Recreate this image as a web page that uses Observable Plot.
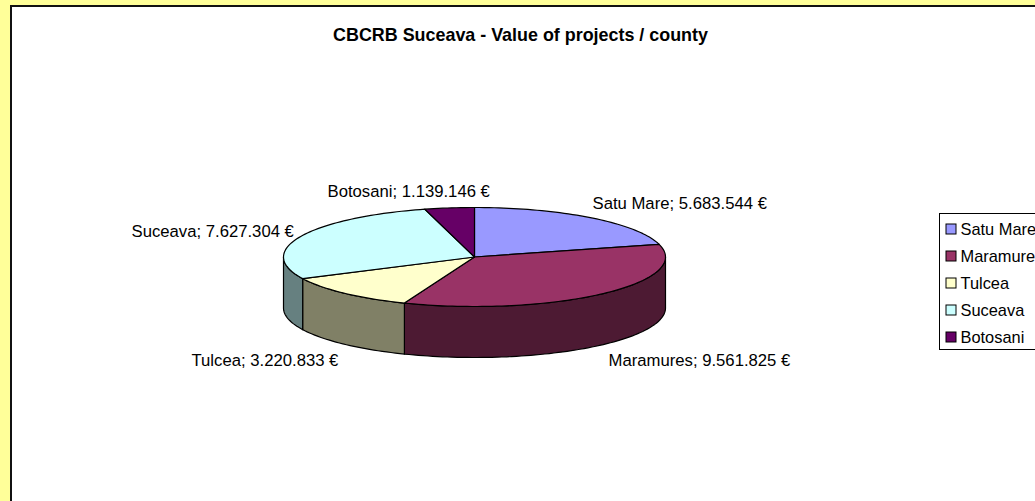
<!DOCTYPE html>
<html>
<head>
<meta charset="utf-8">
<script src="https://cdn.jsdelivr.net/npm/d3@7"></script>
<script src="https://cdn.jsdelivr.net/npm/@observablehq/plot@0.6"></script>
<style>
html,body{margin:0;padding:0;overflow:hidden;background:#FFFF99;}
svg{display:block;}
</style>
</head>
<body>
<div id="chart"></div>
<script>
const counties = ["Satu Mare", "Maramures", "Tulcea", "Suceava", "Botosani"];
const values = [5683544, 9561825, 3220833, 7627304, 1139146];
const valueLabels = ["5.683.544 €", "9.561.825 €", "3.220.833 €", "7.627.304 €", "1.139.146 €"];
const colors = ["#9999FF", "#993366", "#FFFFCC", "#CCFFFF", "#660066"];
const sideColors = ["#4D4D80", "#4D1A33", "#808066", "#668080", "#330033"];

// layout
const W = 1035, H = 501;
const pie = {cx: 474, cy: 256.5, rx: 191, ry: 49.5, depth: 51};
const labelPos = [[592, 203], [608, 360], [191, 360], [131, 231], [327, 191]];
const legendRowY = [229, 256, 283, 310, 337];

const total = d3.sum(values);
const rad = (a) => a * Math.PI / 180;
const px = (a) => pie.cx + pie.rx * Math.sin(rad(a));
const py = (a) => pie.cy - pie.ry * Math.cos(rad(a));
function sweep(a0, a1) {
  const n = Math.max(2, Math.ceil(Math.abs(a1 - a0) / 1.5));
  return d3.range(n + 1).map((i) => a0 + (a1 - a0) * i / n);
}

let acc = 0;
const slices = values.map((v, i) => {
  const a0 = acc / total * 360;
  acc += v;
  return {i, a0, a1: acc / total * 360};
});

// side walls: only the front half of the disc (90°..270°) shows
const sidePts = [];
slices.forEach(({i, a0, a1}) => {
  const s = Math.max(a0, 90), e = Math.min(a1, 270);
  if (s >= e) return;
  const top = sweep(s, e).map((a) => ({x: px(a), y: py(a)}));
  const bottom = sweep(e, s).map((a) => ({x: px(a), y: py(a) + pie.depth}));
  [...top, ...bottom, top[0]].forEach((p) => sidePts.push({...p, id: i, color: sideColors[i]}));
});

// top faces
const topPts = [];
slices.forEach(({i, a0, a1}) => {
  const c = {x: pie.cx, y: pie.cy};
  const arc = sweep(a0, a1).map((a) => ({x: px(a), y: py(a)}));
  [c, ...arc, c].forEach((p) => topPts.push({...p, id: i, color: colors[i]}));
});

const labels = counties.map((name, i) => ({
  text: `${name}; ${valueLabels[i]}`,
  x: labelPos[i][0],
  y: labelPos[i][1]
}));
const legendRows = counties.map((name, i) => ({name, y: legendRowY[i], color: colors[i]}));

const chart = Plot.plot({
  width: W,
  height: H,
  margin: 0,
  x: {domain: [0, W], range: [0, W], axis: null},
  y: {domain: [0, H], range: [0, H], axis: null},
  style: {background: "#FFFF99", fontFamily: "'Liberation Sans', Arial, sans-serif"},
  marks: [
    // chart panel
    Plot.rect([{x1: 11, y1: 6, x2: W + 10, y2: H + 10}], {
      x1: "x1", y1: "y1", x2: "x2", y2: "y2",
      fill: "white", stroke: "#111", strokeWidth: 2
    }),
    Plot.text(["CBCRB Suceava - Value of projects / county"], {
      x: 520, y: 35, text: (d) => d, fontSize: 17.9, fontWeight: "bold", fill: "black"
    }),
    // pie
    Plot.line(sidePts, {x: "x", y: "y", z: "id", fill: "color", stroke: "black", strokeWidth: 1.2, curve: "linear"}),
    Plot.line(topPts, {x: "x", y: "y", z: "id", fill: "color", stroke: "black", strokeWidth: 1.2, curve: "linear"}),
    // data labels
    Plot.text(labels, {x: "x", y: "y", text: "text", textAnchor: "start", fontSize: 16.7, fill: "black"}),
    // legend
    Plot.rect([{x1: 939.5, y1: 213.5, x2: W + 10, y2: 349.5}], {
      x1: "x1", y1: "y1", x2: "x2", y2: "y2", fill: "white", stroke: "black", strokeWidth: 1
    }),
    Plot.rect(legendRows, {
      x1: () => 946, x2: () => 956,
      y1: (d) => d.y - 5, y2: (d) => d.y + 5,
      fill: "color", stroke: "black", strokeWidth: 1
    }),
    Plot.text(legendRows, {x: () => 960, y: "y", text: "name", textAnchor: "start", fontSize: 16.4, fill: "black"})
  ]
});
document.getElementById("chart").appendChild(chart);
</script>
</body>
</html>
